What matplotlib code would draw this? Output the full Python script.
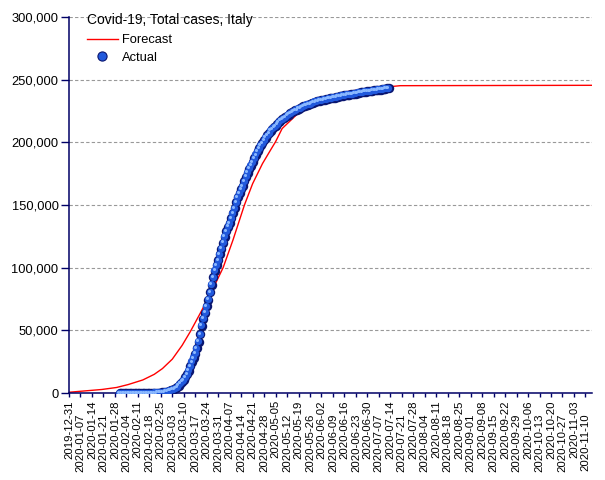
import numpy as np
import matplotlib
matplotlib.use("Agg")
import matplotlib.pyplot as plt
import matplotlib.ticker as mticker
from matplotlib.transforms import offset_copy
from matplotlib.lines import Line2D

plt.rcParams['font.family'] = ['Liberation Sans', 'DejaVu Sans']

# ---- data ----
title = "Covid-19, Total cases, Italy"
actual_start = "2020-01-31"
actual_values = [
    2, 2, 2, 2, 2, 2, 2, 3, 3, 3, 3, 3, 3, 3, 3, 3, 3, 3, 3, 3, 3,          # Jan 31 - Feb 20
    20, 62, 155, 229, 322, 453, 655, 888, 1128,                              # Feb 21 - Feb 29
    1694, 2036, 2502, 3089, 3858, 4636, 5883, 7375, 9172, 10149,             # Mar 1 - 10
    12462, 15113, 17660, 21157, 24747, 27980, 31506, 35713, 41035, 47021,    # Mar 11 - 20
    53578, 59138, 63927, 69176, 74386, 80589, 86498, 92472, 97689, 101739,   # Mar 21 - 30
    105792,                                                                  # Mar 31
    110574, 115242, 119827, 124632, 128948, 132547, 135586, 139422, 143626, 147577,  # Apr 1 - 10
    152271, 156363, 159516, 162488, 165155, 168941, 172434, 175925, 178972, 181228,  # Apr 11 - 20
    183957, 187327, 189973, 192994, 195351, 197675, 199414, 201505, 203591, 205463,  # Apr 21 - 30
    207428, 209328, 210717, 211938, 213013, 214457, 215858, 217185, 218268, 219070,  # May 1 - 10
    219814, 221216, 222104, 223096, 223885, 224760, 225435, 225886, 226699, 227364,  # May 11 - 20
    228006, 228658, 229327, 229858, 230158, 230555, 231139, 231732, 232248, 232664,  # May 21 - 30
    232997,                                                                  # May 31
    233197, 233515, 233836, 234013, 234531, 234801, 234998, 235278, 235561, 235763,  # Jun 1 - 10
    236142, 236305, 236651, 236989, 237290, 237500, 237828, 238159, 238011, 238275,  # Jun 11 - 20
    238499, 238720, 238833, 239410, 239706, 239961, 240136, 240310, 240436, 240578,  # Jun 21 - 30
    240760, 240961, 241184, 241419, 241611, 241819, 241956, 242149, 242363, 242639,  # Jul 1 - 10
    242827, 243061, 243230,                                                  # Jul 11 - 13
]

forecast_dates = [
    "2019-12-31", "2020-01-10", "2020-01-20", "2020-01-29", "2020-02-05",
    "2020-02-14", "2020-02-21", "2020-02-26", "2020-03-03", "2020-03-09",
    "2020-03-14", "2020-03-20", "2020-03-27", "2020-04-03", "2020-04-09",
    "2020-04-16", "2020-04-21", "2020-04-27", "2020-05-02", "2020-05-05",
    "2020-05-09", "2020-05-17", "2020-05-24", "2020-05-31", "2020-06-08",
    "2020-06-18", "2020-06-28", "2020-07-13", "2020-07-20", "2020-11-14",
]
forecast_values = [
    600, 1700, 2800, 4400, 6700,
    10400, 14900, 19500, 27000, 38000,
    49000, 63500, 81000, 100000, 122000,
    150000, 167000, 183000, 194000, 200500,
    211000, 221000, 228500, 233500, 237500,
    240500, 242500, 244300, 245200, 245500,
]

x_start = "2019-12-31"
x_end = "2020-11-14"
tick_first = "2019-12-31"
tick_last = "2020-11-10"
y_ticks = [0, 50000, 100000, 150000, 200000, 250000, 300000]

# ---- figure ----
W, H, DPI = 605, 480, 100
fig = plt.figure(figsize=(W / DPI, H / DPI), dpi=DPI)
ax = fig.add_axes([69 / W, 1 - 393 / H, (592 - 69) / W, (393 - 17) / H])

navy = "#000066"

f_dates = np.array(forecast_dates, dtype="datetime64[D]")
a_dates = np.datetime64(actual_start) + np.arange(len(actual_values))
a_vals = np.array(actual_values)

ax.plot(f_dates, forecast_values, color="#ff0000", lw=1.0, zorder=2)

# sphere-like markers
ax.plot(a_dates, a_vals, ls="none", marker="o", ms=6.8, mfc="#0a1670", mec="#0a1670", mew=0, zorder=3)
t1 = offset_copy(ax.transData, fig=fig, x=-0.35, y=0.35, units="points")
ax.plot(a_dates, a_vals, ls="none", marker="o", ms=5.2, mfc="#2159dc", mec="#2159dc", mew=0, zorder=4, transform=t1)
t2 = offset_copy(ax.transData, fig=fig, x=-1.0, y=1.0, units="points")
ax.plot(a_dates, a_vals, ls="none", marker="o", ms=2.2, mfc="#8ab8ff", mec="#8ab8ff", mew=0, zorder=5, transform=t2)

ax.set_xlim(np.datetime64(x_start), np.datetime64(x_end))
ax.set_ylim(0, 300000)

ticks = np.arange(np.datetime64(tick_first), np.datetime64(tick_last) + 1, 7)
major = ticks[0::2]
minor = ticks[1::2]
ax.set_xticks(major)
ax.set_xticklabels([str(t) for t in major], rotation=90, fontsize=8.2)
ax.set_xticks(minor, minor=True)
ax.set_xticklabels([str(t) for t in minor], minor=True, rotation=90, fontsize=8.2)
ax.set_yticks(y_ticks)
ax.yaxis.set_major_formatter(mticker.FuncFormatter(lambda v, p: f"{int(v):,}"))
ax.tick_params(axis="y", labelsize=9.3, length=6, width=1, color=navy, pad=1.5)
ax.tick_params(axis="x", which="major", length=3.2, width=1, color=navy, pad=2.0)
ax.tick_params(axis="x", which="minor", length=3.2, width=1, color=navy, pad=11.4)

for s in ["top", "right"]:
    ax.spines[s].set_visible(False)
for s in ["left", "bottom"]:
    ax.spines[s].set_color(navy)
    ax.spines[s].set_linewidth(1.1)

ax.grid(axis="y", color="#999999", lw=0.8, ls=(0, (3, 2)))
ax.set_axisbelow(True)

# legend
h_fc = Line2D([], [], color="#ff0000", lw=1.0)
h_ac = Line2D([], [], ls="none", marker="o", ms=6.6, mfc="#2159dc", mec="#0a1670", mew=0.8)
leg = ax.legend([h_fc, h_ac], ["Forecast", "Actual"], title=title, loc="upper left",
                bbox_to_anchor=(84 / W, 1 - 10.5 / H), bbox_transform=fig.transFigure,
                frameon=False, fontsize=9.3, title_fontsize=10, alignment="left",
                handlelength=2.4, handletextpad=0.35, labelspacing=0.45, borderpad=0.2,
                borderaxespad=0)
leg._legend_box.sep = 5

fig.savefig("out.png", dpi=DPI)
